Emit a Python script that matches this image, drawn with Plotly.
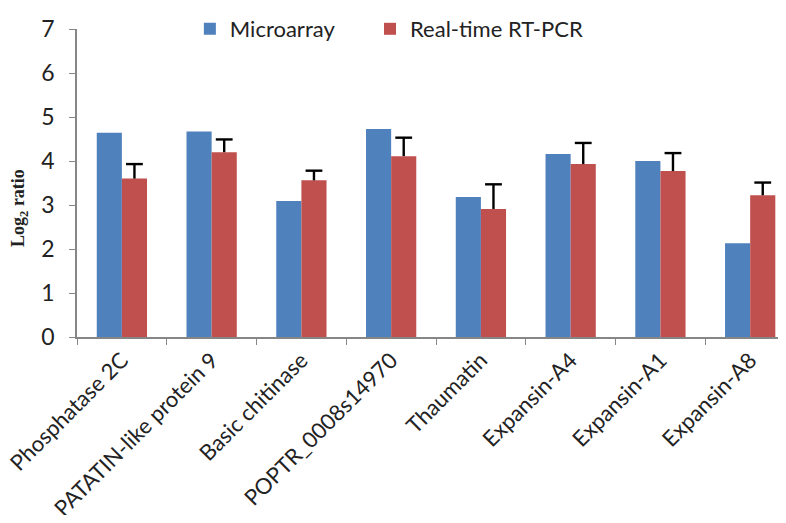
import plotly.graph_objects as go

categories = ["Phosphatase 2C", "PATATIN-like protein 9", "Basic chitinase", "POPTR_0008s14970",
              "Thaumatin", "Expansin-A4", "Expansin-A1", "Expansin-A8"]
microarray = [4.64, 4.67, 3.09, 4.73, 3.18, 4.16, 4.00, 2.13]
rtpcr = [3.60, 4.20, 3.56, 4.11, 2.91, 3.93, 3.77, 3.22]
rtpcr_err = [0.33, 0.29, 0.22, 0.42, 0.56, 0.48, 0.41, 0.29]

blue = "#4F81BD"
red = "#C0504D"
axis_col = "#868686"
txt_col = "#222222"
font_main = "Lato, Carlito, Calibri, sans-serif"
bargap = 0.44

x_idx = list(range(len(categories)))
red_off = (1 - bargap) / 4.0
x_red = [i + red_off for i in x_idx]
cap_y = [v + e for v, e in zip(rtpcr, rtpcr_err)]

fig = go.Figure()
fig.add_trace(go.Bar(x=x_idx, y=microarray, name="Microarray", legend="legend",
                     marker=dict(color=blue, line=dict(width=0))))
fig.add_trace(go.Bar(x=x_idx, y=rtpcr, name="Real-time RT-PCR", legend="legend2",
                     marker=dict(color=red, line=dict(width=0)),
                     error_y=dict(type="data", symmetric=False, array=rtpcr_err,
                                  arrayminus=[0] * len(rtpcr), color="black",
                                  thickness=2.4, width=0)))
# caps at the top of the error bars only
fig.add_trace(go.Scatter(x=x_red, y=cap_y, mode="markers", showlegend=False, hoverinfo="skip",
                         marker=dict(symbol="line-ew", size=12, color="black",
                                     line=dict(color="black", width=2.4))))

leg_common = dict(orientation="h", y=1.0, xanchor="left", yanchor="middle",
                  font=dict(family=font_main, size=22, color=txt_col),
                  itemwidth=30, bgcolor="rgba(0,0,0,0)")

PW = 701  # plot width in px
fig.update_layout(
    width=770, height=507,
    margin=dict(l=69, r=0, t=14, b=178),
    paper_bgcolor="white", plot_bgcolor="white",
    barmode="group", bargap=bargap, bargroupgap=0,
    font=dict(family=font_main, size=22, color=txt_col),
    showlegend=True,
    legend=dict(x=0.161, **leg_common),
    legend2=dict(x=0.418, **leg_common),
    xaxis=dict(range=[-0.5, 7.31], showline=True, linecolor=axis_col, linewidth=1.5,
               tickmode="array", tickvals=x_idx, ticktext=categories, ticks="",
               ticklabelstandoff=0, ticklabeloverflow="allow",
               minor=dict(tickmode="array", tickvals=[i - 0.5 for i in x_idx],
                          ticks="outside", ticklen=6, tickcolor=axis_col, tickwidth=1,
                          showgrid=False),
               tickangle=-45, tickfont=dict(family=font_main, size=22, color=txt_col),
               showgrid=False, zeroline=False, automargin=False, fixedrange=True),
    yaxis=dict(range=[0, 7], dtick=1, showline=True, linecolor=axis_col, linewidth=1.5,
               ticks="outside", ticklen=6, tickcolor=axis_col, showgrid=False, zeroline=False,
               ticklabelstandoff=10, automargin=False, ticklabeloverflow="allow",
               tickfont=dict(family=font_main, size=23, color=txt_col)),
    annotations=[dict(text="<b>Log<sub>2</sub> ratio</b>", xref="paper", yref="paper",
                      x=(20 - 77) / PW, y=(337 - 205) / 315, xanchor="center",
                      yanchor="middle", textangle=-90, showarrow=False,
                      font=dict(family="Liberation Serif, Times New Roman, serif", size=18,
                                color=txt_col))],
)

fig.write_html("out.html")
